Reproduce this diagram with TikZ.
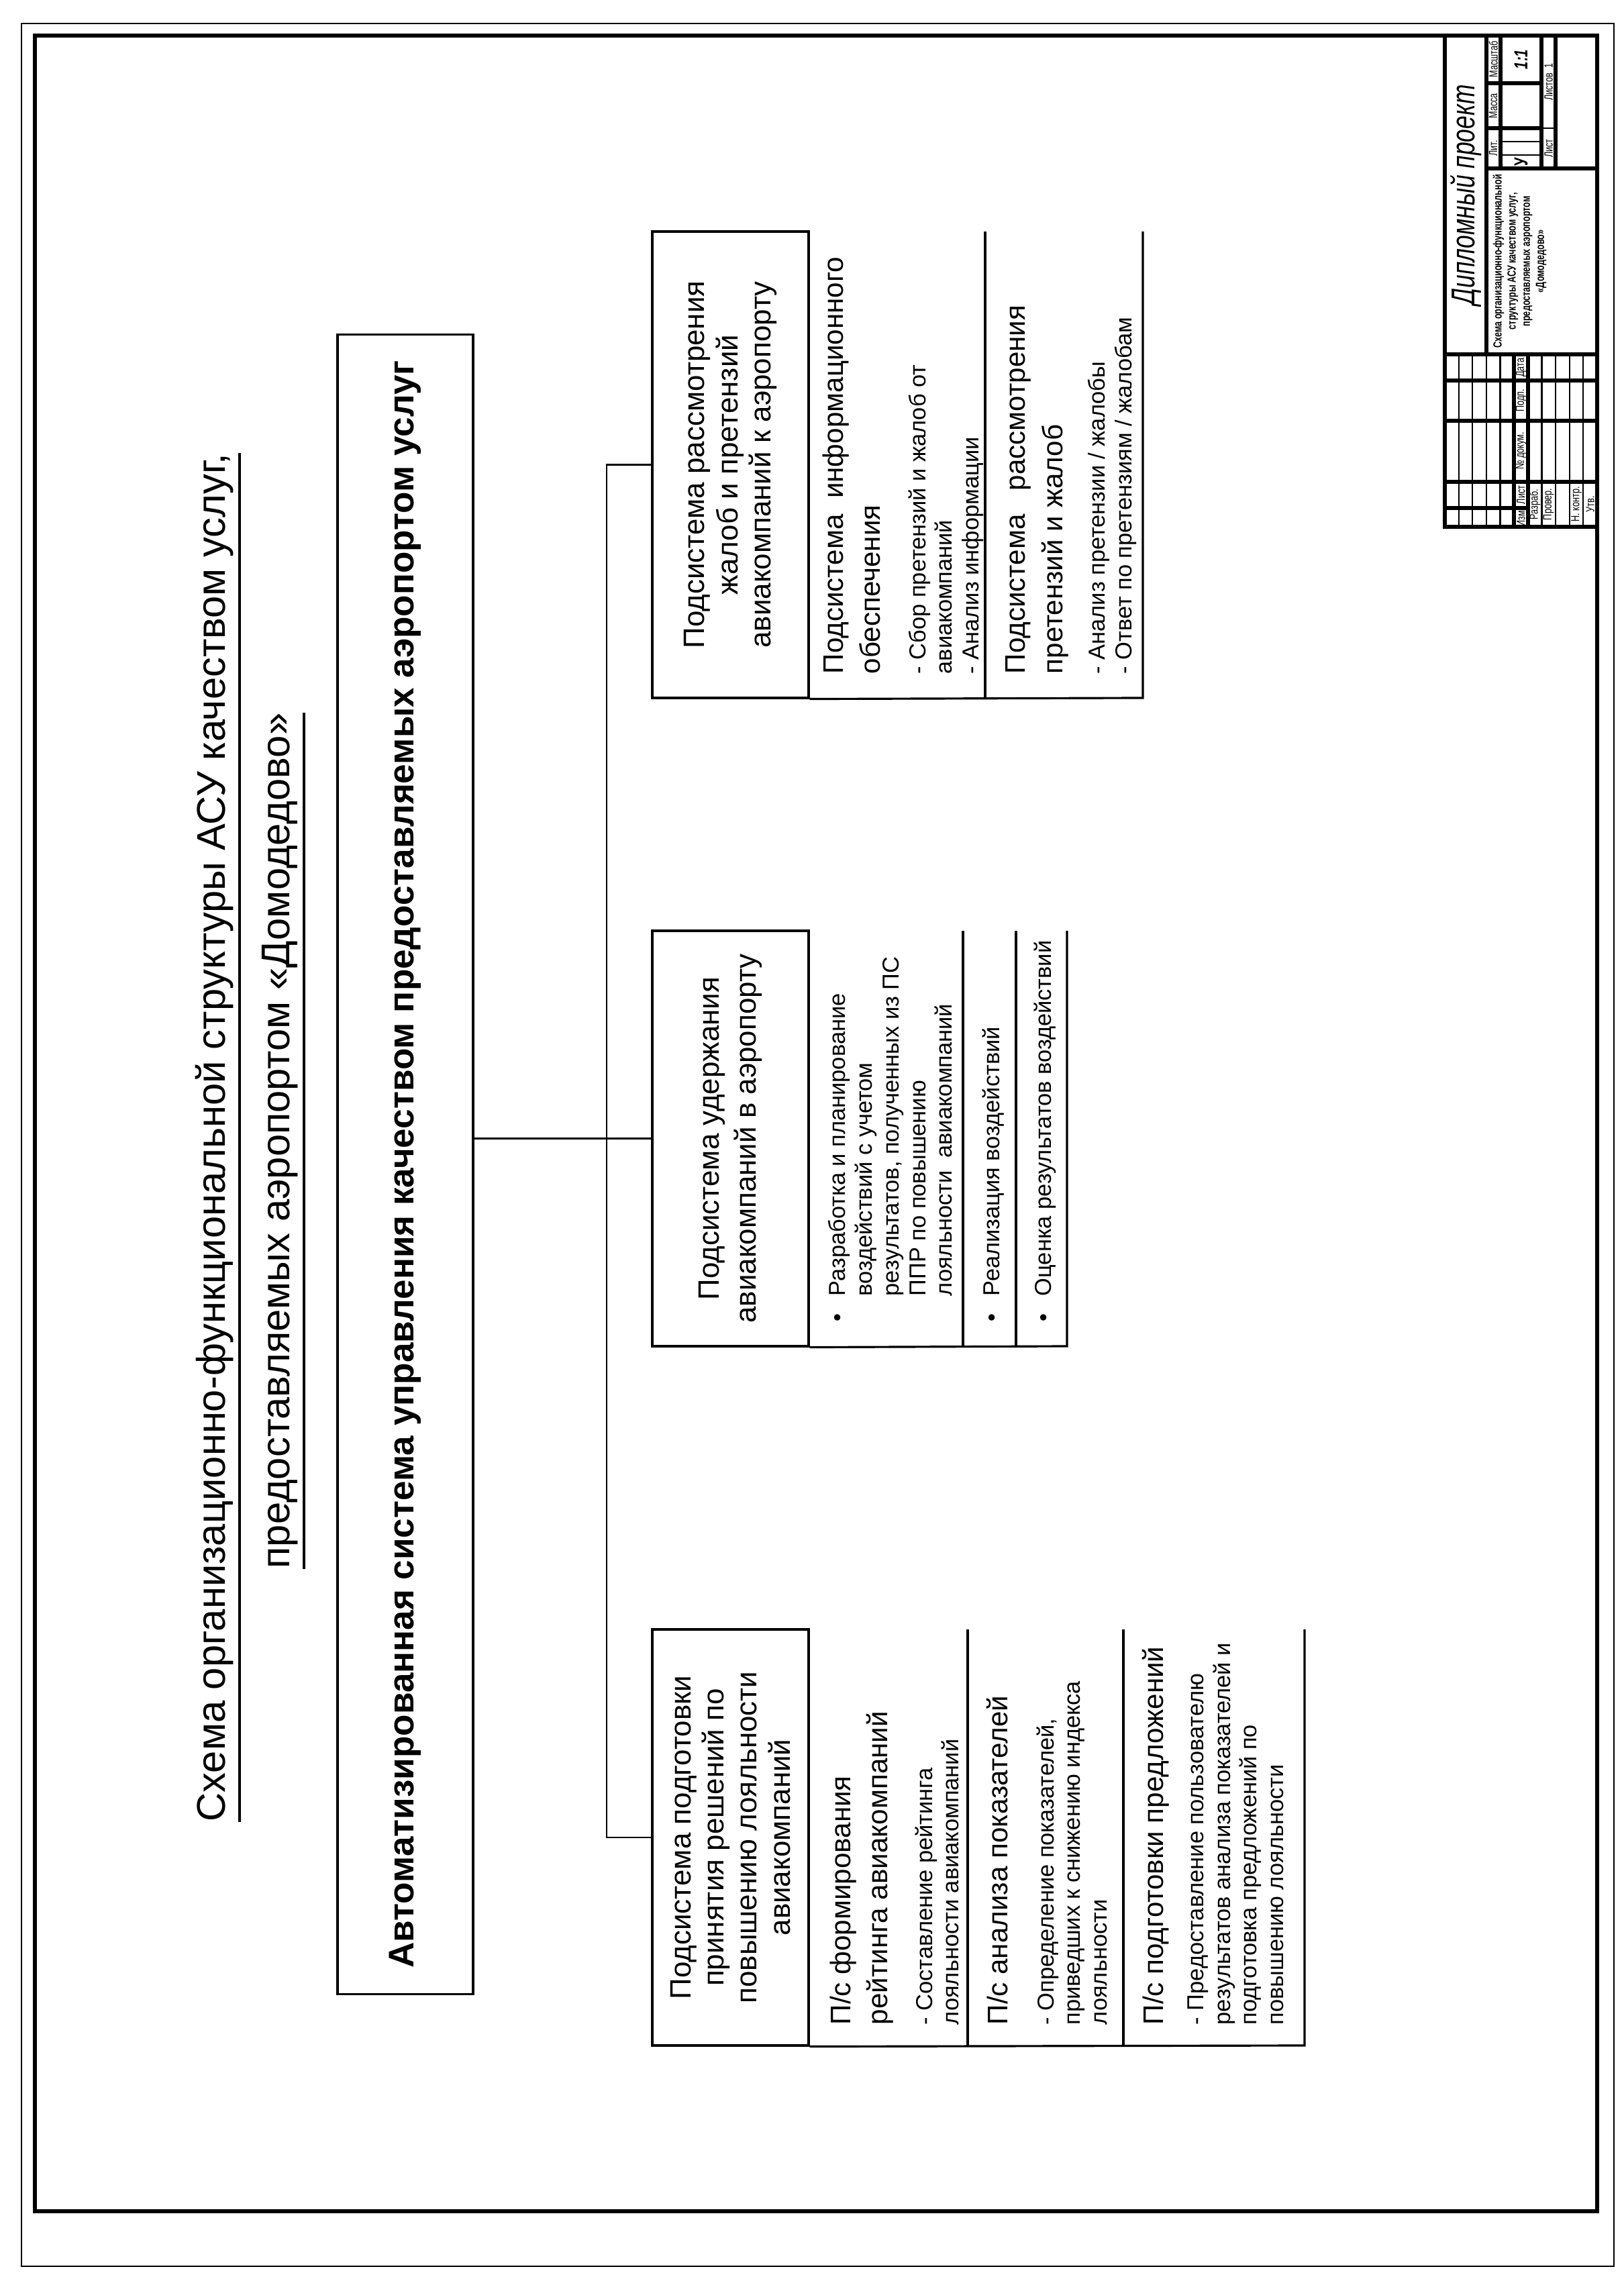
\documentclass[tikz,border=0pt]{standalone}
\usepackage{fontspec}
\setmainfont{Liberation Sans}
\newfontfamily\gostfont[FakeStretch=0.72]{Liberation Sans}
\usetikzlibrary{positioning}
\newcommand{\bul}{\llap{\textbullet\hspace{2.6mm}}}

\begin{document}
\begin{tikzpicture}[
    x=0.1mm, y=0.1mm, rotate=90, transform shape,
    thinframe/.style={line width=0.6pt},
    thickframe/.style={line width=1.7pt},
    boxline/.style={line width=0.9pt},
    link/.style={line width=0.7pt},
    mainbox/.style={draw, line width=1pt, inner sep=0pt,
        minimum width=247.3mm, minimum height=20.2mm,
        font=\fontsize{15.1}{17}\selectfont\bfseries},
    subbox/.style={draw, line width=0.9pt, inner sep=0pt, align=center,
        minimum height=23.3mm, font=\fontsize{12.5}{14}\selectfont},
    head/.style={anchor=north west, inner sep=0pt, align=left,
        font=\fontsize{12}{15.8}\selectfont},
    item/.style={anchor=north west, inner sep=0pt, align=left,
        font=\fontsize{9.8}{11.3}\selectfont},
    heading/.style={anchor=base, inner sep=0pt, font=\fontsize{17}{20}\selectfont},
    gost/.style={inner sep=0pt, align=center, font=\gostfont\fontsize{5}{6}\selectfont}
]
    \useasboundingbox (0,0) rectangle (3390,2420);

    % Sheet frame
    \draw[thinframe] (13,15) rectangle (3355,2388);
    \draw[thickframe] (95,40) rectangle (3337,2368);

    % Heading
    \node[heading] (title1) at (1695,2084)
        {Схема организационно-функциональной структуры АСУ качеством услуг,};
    \node[heading] (title2) at (1690,1988)
        {предоставляемых аэропортом «Домодедово»};
    \draw[line width=1.2pt] ([yshift=-6]title1.base west) -- ([yshift=-6]title1.base east);
    \draw[line width=1.2pt] ([yshift=-6]title2.base west) -- ([yshift=-6]title2.base east);

    % Main system
    \node[mainbox] (acs) at (1655,1816)
        {Автоматизированная система управления качеством предоставляемых аэропортом услуг};

    % Subsystems
    \node[subbox, minimum width=62mm] (prep) at (652,1331.5)
        {Подсистема подготовки\\принятия решений по\\повышению лояльности\\авиакомпаний};
    \node[subbox, minimum width=61.9mm, font=\fontsize{12.5}{15.5}\selectfont] (retain) at (1693.5,1331.5)
        {Подсистема удержания\\авиакомпаний в аэропорту};
    \node[subbox, minimum width=69.5mm] (claims) at (2697.5,1331.5)
        {Подсистема рассмотрения\\жалоб и претензий\\авиакомпаний к аэропорту};

    % Connectors
    \coordinate (acsout) at (1693.5,1715);
    \coordinate (busL) at (652,1516);
    \coordinate (busR) at (2697.5,1516);
    \draw[link] (acsout) -- (retain.north);
    \draw[link] (prep.north) -- (busL) -- (busR) -- (claims.north);

    % Left column sections
    \draw[boxline] (prep.south west) -- (342,476) -- (962,476);
    \draw[boxline] (342,978) -- (962,978);
    \draw[boxline] (342,746) -- (962,746);
    \node[head] (rating) at (372,1184) {П/с формирования\\рейтинга авиакомпаний};
    \node[item] (ratingtxt) at (372,1057) {- Составление рейтинга\\лояльности авиакомпаний};
    \node[head] (analysis) at (372,950) {П/с анализа показателей};
    \node[item] (analysistxt) at (372,876)
        {- Определение показателей,\\приведших к снижению индекса\\лояльности};
    \node[head] (offers) at (372,718) {П/с подготовки предложений};
    \node[item] (offerstxt) at (372,651)
        {- Предоставление пользователю\\результатов анализа показателей и\\подготовка предложений по\\повышению лояльности};

    % Middle column sections
    \draw[boxline] (retain.south west) -- (1384,830) -- (2003,830);
    \draw[boxline] (1384,985) -- (2003,985);
    \draw[boxline] (1384,906) -- (2003,906);
    \node[item] (plan) at (1458,1186)
        {\bul Разработка и планирование\\воздействий с учетом\\результатов, полученных из ПС\\ППР по повышению\\лояльности\ \ авиакомпаний};
    \node[item] (apply) at (1458,957) {\bul Реализация воздействий};
    \node[item] (assess) at (1458,880) {\bul Оценка результатов воздействий};

    % Right column sections
    \draw[boxline] (claims.south west) -- (2350,717) -- (3045,717);
    \draw[boxline] (2350,952) -- (3045,952);
    \node[head] (info) at (2385,1195) {Подсистема\ \ информационного\\обеспечения};
    \node[item] (infotxt) at (2385,1067)
        {- Сбор претензий и жалоб от\\авиакомпаний\\- Анализ информации};
    \node[head] (review) at (2385,922) {Подсистема\ \ \ рассмотрения\\претензий и жалоб};
    \node[item] (reviewtxt) at (2385,799)
        {- Анализ претензии / жалобы\\- Ответ по претензиям / жалобам};

    % Title block
    \begin{scope}[shift={(2605,40)}, x=0.3957mm, y=0.4127mm]
        \draw[thickframe] (0,0) rectangle (185,55);
        \draw[thickframe] (65,0) -- (65,55) (65,40) -- (185,40) (135,0) -- (135,40)
            (135,35) -- (185,35) (135,20) -- (185,20) (135,15) -- (185,15)
            (150,20) -- (150,40) (167,20) -- (167,40)
            (7,25) -- (7,55) (17,0) -- (17,55) (40,0) -- (40,55) (55,0) -- (55,55)
            (0,25) -- (65,25) (0,30) -- (65,30);
        \draw[thinframe] (140,20) -- (140,35) (145,20) -- (145,35) (150,15) -- (150,20);
        \foreach \r in {5,10,15,20,35,40,45,50}
            \draw[thinframe] (0,\r) -- (65,\r);
        \node[gost, font=\gostfont\itshape\fontsize{14}{16}\selectfont] (kind) at (125,47.5) {Дипломный проект};
        \node[gost, font=\gostfont\bfseries\fontsize{5}{6}\selectfont] (name) at (100,28)
            {Схема организационно-функциональной\\структуры АСУ качеством услуг,\\предоставляемых аэропортом\\«Домодедово»};
        \node[gost] at (142.5,37.5) {Лит.};
        \node[gost] at (158.5,37.5) {Масса};
        \node[gost] at (176,37.5) {Масштаб};
        \node[gost, font=\gostfont\bfseries\fontsize{8}{9}\selectfont] at (137.5,27.5) {У};
        \node[gost, font=\gostfont\bfseries\itshape\fontsize{8}{9}\selectfont] at (176,27.5) {1:1};
        \node[gost] at (142.5,17.5) {Лист};
        \node[gost] at (167.5,17.5) {Листов\ \ 1};
        \node[gost] at (3.5,27.5) {Изм.};
        \node[gost] at (12,27.5) {Лист};
        \node[gost] at (28.5,27.5) {№ докум.};
        \node[gost] at (47.5,27.5) {Подп.};
        \node[gost] at (60,27.5) {Дата};
        \node[gost] at (8.5,22.5) {Разраб.};
        \node[gost] at (8.5,17.5) {Провер.};
        \node[gost] at (8.5,7.5) {Н. контр.};
        \node[gost] at (8.5,2.5) {Утв.};
    \end{scope}
\end{tikzpicture}
\end{document}
